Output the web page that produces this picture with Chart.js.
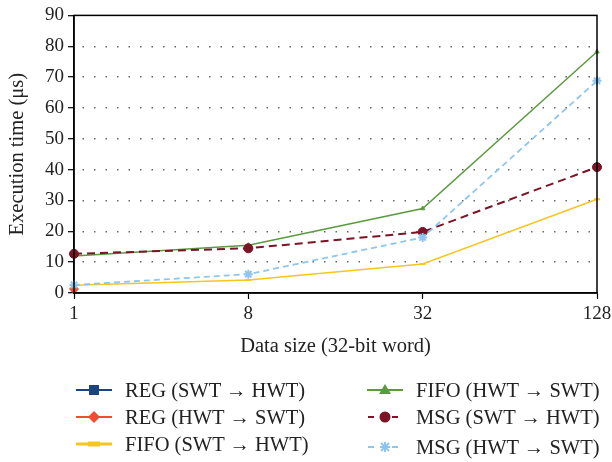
<!DOCTYPE html>
<html>
<head>
<meta charset="utf-8">
<script src="https://cdn.jsdelivr.net/npm/chart.js@4"></script>
<style>
  html, body { margin: 0; padding: 0; background: #fff; }
  #wrap { position: relative; width: 612px; height: 462px; }
  #legend { position: absolute; left: 0; top: 0; width: 612px; height: 462px; pointer-events: none;
            font-family: "Liberation Serif", "DejaVu Serif", serif; font-size: 20.5px; color: #222; }
  .item { position: absolute; display: flex; align-items: center; height: 24px; white-space: nowrap; }
  .item svg { margin-right: 13px; }
</style>
</head>
<body>
<div id="wrap">
  <canvas id="chart" width="612" height="462"></canvas>
  <div id="legend"></div>
</div>
<script>
// Categorias e valores
const categorias = ['1', '8', '32', '128'];
const rotulosY = [0, 10, 20, 30, 40, 50, 60, 70, 80, 90];

const regSwtHwt = [1.2, null, null, null];
const regHwtSwt = [1.3, null, null, null];
const fifoSwtHwt = [2.5, 4.2, 9.4, 30.4];
const fifoHwtSwt = [12, 15.5, 27.4, 78.2];
const msgSwtHwt = [12.7, 14.5, 19.8, 40.8];
const msgHwtSwt = [2.6, 6.1, 18, 68.8];

const nomes = [
    'REG (SWT \u2192 HWT)', 'REG (HWT \u2192 SWT)', 'FIFO (SWT \u2192 HWT)',
    'FIFO (HWT \u2192 SWT)', 'MSG (SWT \u2192 HWT)', 'MSG (HWT \u2192 SWT)'
];

const fonte = '"Liberation Serif", "DejaVu Serif", serif';

// Caixa preta em volta da área do gráfico
const caixa = {
    id: 'caixa',
    afterDraw(chart) {
        const a = chart.chartArea;
        const ctx = chart.ctx;
        ctx.save();
        ctx.setLineDash([]);
        ctx.strokeStyle = '#000';
        ctx.lineWidth = 1.5;
        ctx.strokeRect(a.left, a.top, a.right - a.left, a.bottom - a.top);
        ctx.restore();
    }
};

// ordem: valores maiores ficam por baixo
const estilos = [
    { cor: '#1b4480', ponto: 'rect', raio: 3, tracejado: [], largura: 1.5, ordem: 10 },
    { cor: '#ee4f2a', ponto: 'rectRot', raio: 4.5, tracejado: [], largura: 1.5, ordem: 5 },
    { cor: '#f6c620', ponto: 'line', raio: 3, tracejado: [], largura: 1.5, ordem: 4 },
    { cor: '#5b9a40', ponto: 'triangle', raio: 2.5, tracejado: [], largura: 1.5, ordem: 3 },
    { cor: '#7b1424', ponto: 'circle', raio: 4.5, tracejado: [8, 5], largura: 2, ordem: 2 },
    { cor: '#8dc6ee', ponto: 'star', raio: 4.5, tracejado: [6, 4], largura: 1.8, ordem: 1 }
];
const series = [regSwtHwt, regHwtSwt, fifoSwtHwt, fifoHwtSwt, msgSwtHwt, msgHwtSwt];

const ctx = document.getElementById('chart');
new Chart(ctx, {
    type: 'line',
    data: {
        labels: categorias,
        datasets: series.map((dados, i) => ({
            label: nomes[i],
            data: dados,
            order: estilos[i].ordem,
            borderColor: estilos[i].cor,
            backgroundColor: estilos[i].cor,
            borderWidth: estilos[i].largura,
            borderDash: estilos[i].tracejado,
            pointStyle: estilos[i].ponto,
            pointRadius: estilos[i].raio,
            pointBorderWidth: estilos[i].ponto === 'star' || estilos[i].ponto === 'line' ? 2 : 1,
            pointBorderColor: estilos[i].cor,
            tension: 0,
            spanGaps: false
        }))
    },
    options: {
        responsive: false,
        animation: false,
        layout: { padding: { top: 12, right: 15, left: 0, bottom: 100 } },
        plugins: {
            legend: { display: false },
            tooltip: { enabled: false }
        },
        scales: {
            x: {
                type: 'category',
                offset: false,
                grid: { display: true, drawOnChartArea: false, drawTicks: true, tickLength: 6, tickColor: '#000', tickWidth: 1.2 },
                border: { color: '#000', width: 1.5 },
                ticks: { color: '#222', font: { family: fonte, size: 19 }, padding: 4, maxRotation: 0 },
                title: { display: true, text: 'Data size (32-bit word)', color: '#222', font: { family: fonte, size: 20.5 }, padding: { top: 4, bottom: 3 } },
                afterFit(scale) {
                    scale.height = 69;
                    scale.paddingLeft = 0;
                    scale.paddingRight = 0;
                }
            },
            y: {
                min: 0,
                max: 90,
                afterBuildTicks(scale) {
                    scale.ticks = rotulosY.map(v => ({ value: v }));
                },
                grid: {
                    color: (c) => (c.tick && (c.tick.value === 0 || c.tick.value === 90)) ? 'rgba(0,0,0,0)' : '#666',
                    lineWidth: 1.4,
                    drawTicks: true,
                    tickLength: 6,
                    tickColor: '#000',
                    tickWidth: 1.2,
                    tickBorderDash: []
                },
                border: { color: '#000', width: 1.5, dash: [1.5, 10], dashOffset: -8 },
                ticks: { color: '#222', font: { family: fonte, size: 19 }, padding: 4 },
                title: { display: true, text: 'Execution time (\u03bcs)', color: '#222', font: { family: fonte, size: 20.5 }, padding: { top: 5, bottom: 4 } },
                afterFit(scale) {
                    scale.width = 74;
                }
            }
        }
    },
    plugins: [caixa]
});

// Legenda em HTML, duas colunas
const posicoes = [
    [76, 390], [76, 417], [76, 444],
    [367, 390], [367, 417], [367, 447]
];
const legenda = document.getElementById('legend');
nomes.forEach((nome, i) => {
    const e = estilos[i];
    const cx = 18, cy = 12;
    let marca = '';
    if (e.ponto === 'rect') marca = `<rect x="${cx - 5}" y="${cy - 5}" width="10" height="10" fill="${e.cor}"/>`;
    else if (e.ponto === 'rectRot') marca = `<polygon points="${cx},${cy - 6} ${cx + 6},${cy} ${cx},${cy + 6} ${cx - 6},${cy}" fill="${e.cor}"/>`;
    else if (e.ponto === 'line') marca = `<rect x="${cx - 6}" y="${cy - 2.5}" width="12" height="5" fill="${e.cor}"/>`;
    else if (e.ponto === 'triangle') marca = `<polygon points="${cx},${cy - 6} ${cx + 6},${cy + 4} ${cx - 6},${cy + 4}" fill="${e.cor}"/>`;
    else if (e.ponto === 'circle') marca = `<circle cx="${cx}" cy="${cy}" r="5.5" fill="${e.cor}"/>`;
    else if (e.ponto === 'star') marca = `<g stroke="${e.cor}" stroke-width="2"><line x1="${cx - 5}" y1="${cy}" x2="${cx + 5}" y2="${cy}"/><line x1="${cx}" y1="${cy - 5}" x2="${cx}" y2="${cy + 5}"/><line x1="${cx - 4}" y1="${cy - 4}" x2="${cx + 4}" y2="${cy + 4}"/><line x1="${cx - 4}" y1="${cy + 4}" x2="${cx + 4}" y2="${cy - 4}"/></g>`;
    const linha = e.tracejado.length
        ? `<line x1="0" y1="${cy}" x2="36" y2="${cy}" stroke="${e.cor}" stroke-width="2" stroke-dasharray="6,6" stroke-dashoffset="-1"/>`
        : `<line x1="0" y1="${cy}" x2="36" y2="${cy}" stroke="${e.cor}" stroke-width="${e.ponto === 'line' ? 3 : 2}"/>`;
    const div = document.createElement('div');
    div.className = 'item';
    div.style.left = posicoes[i][0] + 'px';
    div.style.top = (posicoes[i][1] - 12) + 'px';
    div.innerHTML = `<svg width="36" height="24">${linha}${marca}</svg><span>${nome}</span>`;
    legenda.appendChild(div);
});
</script>
</body>
</html>
